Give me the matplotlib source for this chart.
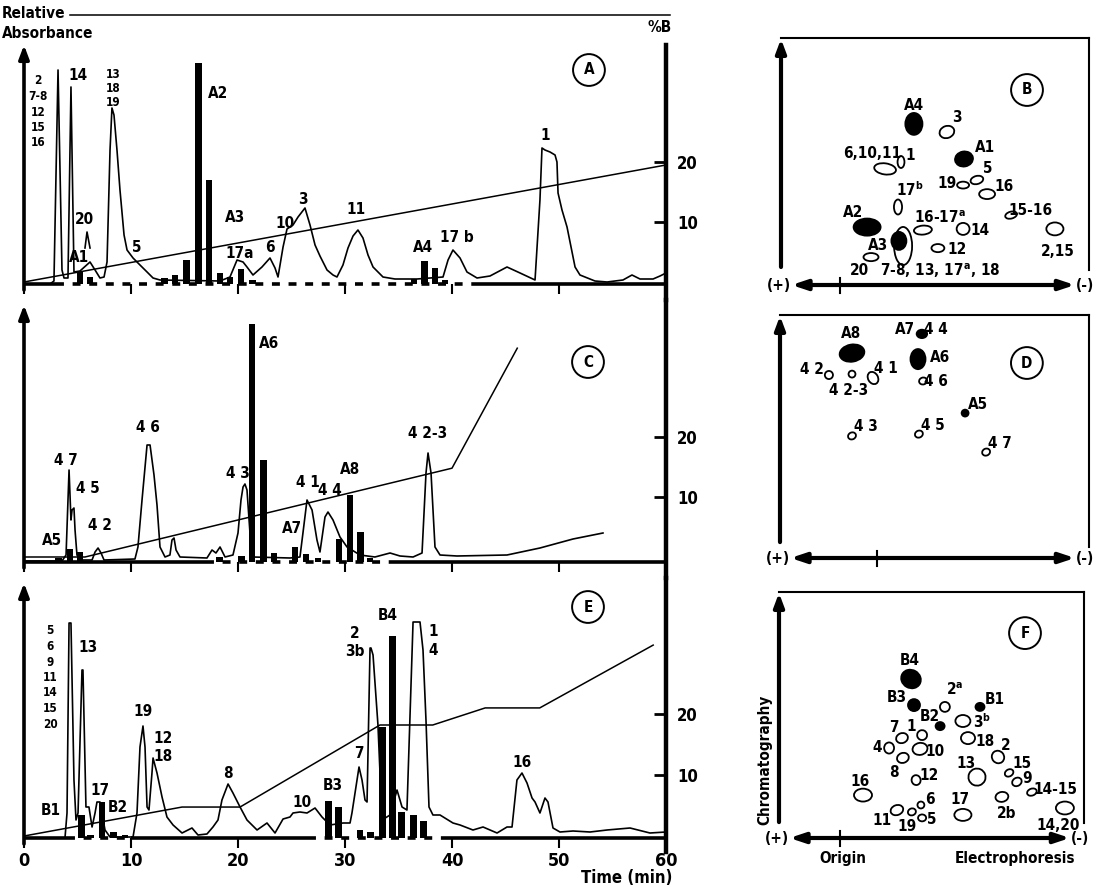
#!/usr/bin/env python3
# Chromatograms (A, C, E) with fraction bars and gradient, plus 2D spot maps (B, D, F)
import numpy as np
import matplotlib
matplotlib.use('Agg')
import matplotlib.pyplot as plt
from matplotlib.patches import Ellipse

plt.rcParams['font.family'] = ['DejaVu Sans']
plt.rcParams['font.stretch'] = 'condensed'
plt.rcParams['font.weight'] = 'bold'
plt.rcParams['mathtext.default'] = 'bf'

# ---------------- chromatogram A ----------------
a_time = [0, 2.43, 2.80, 3.18, 3.55, 3.74, 4.11, 4.39, 4.67, 5.23, 6.17, 6.64, 7.10, 7.48, 7.76, 8.04,
          8.22, 8.41, 8.69, 8.97, 9.35, 9.63, 10.19, 10.84, 11.50, 12.06, 12.71, 18.32, 19.25, 19.91,
          20.47, 20.84, 21.40, 22.24, 22.99, 23.46, 23.74, 24.21, 24.58, 25.14, 25.61, 26.26, 26.73,
          27.20, 27.66, 28.32, 28.88, 29.25, 29.81, 30.28, 30.75, 31.21, 31.68, 32.15, 32.62, 33.55,
          34.67, 36.73, 39.16, 39.63, 40.09, 40.75, 41.40, 42.34, 43.55, 45.14, 46.36, 47.76, 48.22,
          48.41, 48.69, 49.16, 49.63, 49.81, 49.91, 50.28, 50.75, 51.50, 51.96, 53.36, 54.49, 55.98,
          56.82, 57.57, 58.79, 59.44, 60.0]
a_abs = [0, 0, 1.2, 85.6, 5.6, 2.4, 2.4, 78.8, 4.8, 5.2, 8.8, 5.6, 2.4, 2.8, 8.8, 53.6,
         70.4, 67.6, 53.6, 37.6, 19.6, 13.6, 10.4, 7.6, 4.8, 2.4, 1.6, 1.2, 2.8, 9.6,
         8.8, 6.8, 3.6, 6.8, 10.4, 6.4, 2.8, 14.8, 22.0, 23.6, 26.8, 30.4, 23.6,
         15.6, 11.2, 5.6, 3.6, 2.8, 7.6, 14.4, 19.2, 21.6, 18.4, 11.6, 6.8, 2.8,
         2.0, 2.0, 2.8, 9.6, 13.6, 10.4, 4.8, 2.4, 3.2, 6.8, 4.4, 1.6, 33.6,
         54.4, 53.6, 52.8, 51.6, 48.8, 36.4, 29.6, 22.8, 6.8, 3.6, 1.2, 0.8, 1.6,
         3.6, 2.0, 2.0, 3.2, 4.4]
a_peak20_time = [5.70, 5.89, 6.17]
a_peak20_abs = [14.4, 20.8, 14.4]
a_frac_time = [5.23, 6.17, 13.13, 14.11, 15.19, 16.31, 17.29, 18.32, 19.25, 20.28, 21.36, 36.45, 37.43, 38.41, 39.35]
a_frac_abs = [4.8, 2.8, 2.4, 3.6, 9.6, 88.4, 41.6, 4.4, 2.8, 6.0, 1.6, 2.0, 9.2, 6.4, 1.6]
a_grad_time = [0, 60]
a_grad_b = [0, 19.5]

# ---------------- chromatogram C ----------------
c_time = [0, 3.55, 3.93, 4.21, 4.39, 4.49, 4.67, 4.77, 4.95, 5.23, 6.36, 6.64, 6.92, 7.20, 7.48,
          10.37, 10.65, 11.03, 11.50, 11.78, 12.15, 12.43, 12.71, 13.18, 13.64, 13.83, 14.02, 14.21,
          14.58, 17.10, 17.57, 17.94, 18.32, 18.79, 19.53, 20.0, 20.28, 20.47, 20.65, 20.84, 21.12,
          21.40, 24.86, 25.79, 26.07, 26.45, 26.92, 27.38, 27.66, 28.13, 28.41, 28.88, 29.53, 30.19,
          31.40, 32.80, 34.21, 35.14, 36.36, 37.20, 37.57, 37.76, 38.04, 38.41, 38.88, 40.47, 45.14,
          48.22, 51.31, 54.11]
c_abs = [0.4, 0.4, 2.8, 36.8, 16.8, 20.8, 21.6, 12.8, 2.8, 0.8, 0.8, 4.0, 5.6, 3.6, 0.8,
         1.2, 6.0, 24.8, 46.8, 46.8, 34.8, 22.8, 6.0, 2.0, 2.8, 8.8, 9.6, 4.8,
         2.0, 1.6, 4.8, 3.6, 6.0, 2.0, 2.8, 11.6, 24.8, 30.0, 31.2, 28.8, 11.6,
         2.0, 1.6, 2.0, 11.6, 24.8, 20.8, 8.8, 4.0, 18.0, 20.0, 16.8, 10.0, 6.0,
         2.8, 2.0, 3.6, 2.4, 2.0, 3.6, 35.6, 43.6, 35.6, 6.0, 2.8, 2.4, 2.8,
         5.6, 9.2, 11.6]
c_frac_time = [3.22, 4.30, 5.23, 18.27, 20.33, 21.31, 22.38, 23.36, 25.33, 26.36, 27.48, 29.44, 30.47, 31.45, 32.34]
c_frac_abs = [1.6, 5.2, 4.0, 2.0, 2.4, 95.2, 40.8, 3.6, 6.0, 3.2, 1.6, 9.2, 26.8, 12.0, 1.6]
c_grad_time = [0, 5.7, 40.0, 46.1]
c_grad_b = [0, 0, 14.8, 34.8]

# ---------------- chromatogram E ----------------
e_time = [0, 3.83, 4.02, 4.21, 4.39, 4.67, 4.86, 5.05, 5.42, 5.51, 5.79, 6.07, 6.36, 6.64, 6.82,
          7.10, 7.57, 8.04, 10.19, 10.56, 10.84, 11.12, 11.31, 11.50, 11.68, 11.96, 12.06, 12.43,
          12.90, 13.36, 13.93, 14.77, 15.70, 16.26, 17.10, 17.66, 18.13, 18.50, 19.07, 19.53, 20.19,
          20.84, 21.78, 22.71, 23.46, 24.21, 24.86, 25.14, 25.79, 26.45, 27.20, 27.85, 28.6, 29.81,
          30.47, 30.65, 31.31, 31.59, 31.87, 32.06, 32.34, 32.43, 32.62, 33.08, 33.46, 34.21, 34.86,
          35.33, 35.79, 36.36, 37.01, 37.29, 37.57, 37.85, 38.22, 38.88, 40.09, 40.75, 41.96, 42.90,
          44.21, 45.14, 45.61, 46.07, 46.54, 47.01, 47.48, 47.76, 48.22, 48.69, 48.97, 49.44, 50.09,
          51.31, 52.90, 54.49, 56.64, 58.50, 60]
e_abs = [0, 0, 10, 86, 86, 23.2, 7.2, 10, 67.2, 67.2, 12.4, 12.4, 4.4, 10, 14.4,
         14.4, 3.2, 0.4, 0.4, 10, 36.4, 44.8, 36.4, 12.4, 11.2, 26, 32, 26,
         16.4, 8.4, 5.2, 2, 4, 1.2, 1.6, 4.4, 7.2, 15.2, 21.6, 18, 12.4,
         7.2, 3.2, 6, 2, 7.6, 8.4, 10, 10.4, 10, 12, 8.4, 5.2, 6,
         6, 10, 28.4, 23.2, 15.2, 14.4, 76, 76, 73.2, 45.2, 7.2, 9.2, 19.2,
         12.4, 11.2, 86.4, 86.4, 75.2, 47, 12.4, 9.2, 9.2, 6, 5.2, 3.2, 4.4,
         2, 4.4, 4.4, 23.2, 26, 22, 16, 14.4, 10, 16, 14.4, 4, 2.4,
         2.8, 2.4, 3.2, 4, 2, 2.4]
e_frac_time = [5.37, 6.21, 7.29, 8.36, 9.44, 28.46, 29.39, 31.40, 32.34, 33.50, 34.44, 35.28, 36.40, 37.34]
e_frac_abs = [9.2, 1.2, 14.4, 2.4, 1.2, 14.8, 12.4, 3.2, 2.4, 44.4, 80.8, 10.4, 9.2, 6.8]
e_grad_time = [0, 14.77, 20.19, 33.27, 38.2, 43.1, 48.2, 58.8]
e_grad_b = [0, 4.75, 4.75, 18.2, 18.2, 21.0, 21.0, 31.3]

# ---------------- spot map B ----------------
b_x = [44.3, 55.3, 61.0, 40.0, 34.7, 65.3, 60.7, 68.7, 39.0, 76.7, 28.7, 47.3, 60.7, 91.3, 40.7, 39.3, 52.3, 30.0]
b_y = [53.7, 51.0, 42.0, 41.0, 38.7, 35.0, 33.3, 30.3, 26.0, 23.3, 19.3, 18.3, 18.7, 18.7, 13.0, 14.7, 12.3, 9.3]
b_w = [5.7, 5.0, 6.0, 2.3, 7.3, 4.3, 4.0, 5.3, 2.7, 4.0, 9.0, 6.0, 4.3, 5.7, 6.0, 5.0, 4.3, 5.0]
b_h = [7.3, 4.0, 5.0, 4.0, 3.7, 2.7, 2.3, 3.3, 5.0, 2.3, 5.7, 3.0, 4.0, 4.3, 12.7, 6.0, 2.7, 2.7]
b_fill = [1, 0, 1, 0, 0, 0, 0, 0, 0, 0, 1, 0, 0, 0, 0, 1, 0, 0]
b_ang = [0, 20, 10, 0, -8, 15, 0, 0, 0, 15, 0, 5, 0, 0, 0, 0, 0, 0]

# ---------------- spot map D ----------------
d_x = [24.0, 47.3, 46.0, 16.3, 24.0, 31.0, 47.7, 61.7, 24.0, 46.3, 68.7]
d_y = [68.3, 74.7, 66.3, 61.0, 61.3, 60.0, 59.0, 48.3, 40.7, 41.3, 35.3]
d_w = [8.3, 3.5, 5.0, 2.7, 2.3, 3.3, 2.7, 2.3, 2.7, 2.7, 2.7]
d_h = [5.7, 2.8, 6.7, 2.7, 2.3, 4.3, 2.3, 2.3, 2.3, 2.3, 2.3]
d_fill = [1, 1, 1, 0, 0, 0, 0, 1, 0, 0, 0]
d_ang = [10, 0, 0, 0, 0, 30, 15, 0, 25, 25, 25]

# ---------------- spot map F ----------------
f_x = [44.0, 45.0, 55.3, 67.0, 53.7, 61.3, 47.7, 41.0, 63.0, 36.7, 47.0, 41.3, 73.0, 76.7, 66.0, 79.3,
       45.7, 84.3, 28.0, 74.3, 95.3, 47.3, 39.3, 44.3, 47.7, 61.3]
f_y = [53.0, 44.3, 43.7, 43.7, 37.3, 39.0, 34.3, 33.3, 33.3, 30.0, 29.7, 26.7, 27.0, 21.7, 20.3, 18.7,
       19.3, 15.3, 14.3, 13.7, 10.0, 11.0, 9.3, 8.7, 6.7, 7.7]
f_w = [6.7, 4.0, 3.3, 3.0, 3.0, 5.0, 3.3, 4.0, 4.7, 3.3, 5.0, 4.0, 4.0, 3.0, 5.7, 3.3,
       3.0, 3.3, 6.0, 4.3, 6.0, 2.3, 4.3, 2.7, 2.7, 5.7]
f_h = [6.0, 4.0, 3.3, 2.7, 2.7, 4.0, 3.3, 3.3, 4.0, 3.7, 4.0, 3.3, 4.3, 2.3, 5.7, 2.7,
       3.3, 2.3, 4.3, 3.3, 4.3, 2.3, 3.3, 2.3, 2.3, 4.0]
f_fill = [1, 1, 0, 1, 1, 0, 0, 0, 0, 0, 0, 0, 0, 0, 0, 0, 0, 0, 0, 0, 0, 0, 0, 0, 0, 0]
f_ang = [-30, 0, 40, 0, 0, 0, 20, 20, 0, 0, 10, 20, 40, 30, 20, 30, 10, 20, 0, 10, 0, 40, 20, 20, 0, 0]

W, H = 1098, 888
fig = plt.figure(figsize=(W / 100, H / 100), dpi=100)


def box(x0, y0, x1, y1):
    # pixel box of the page -> figure fraction
    return [x0 / W, 1 - y1 / H, (x1 - x0) / W, (y1 - y0) / H]


def chrom(rect, abs_lim, b_lim, b_top, t, a, ft, fa, gt, gb, solid, dashed, labels, letter, bar_w=0.6, time_axis=False):
    ax = fig.add_axes(rect)
    ax.patch.set_visible(False)
    ax.set_xlim(0, 60)
    ax.set_ylim(*abs_lim)
    for s in ['left', 'right', 'top']:
        ax.spines[s].set_visible(False)
    ax.spines['bottom'].set_position(('data', 0))
    ax.spines['bottom'].set_visible(False)
    ax.set_yticks([])
    ax.set_xticks(np.arange(0, 61, 10))
    ax.tick_params(axis='x', direction='out', length=7, width=1.5, labelsize=13, pad=3)
    if not time_axis:
        ax.set_xticklabels([])

    for s0, s1 in solid:
        ax.plot([s0, s1], [0, 0], color='k', lw=2.6, solid_capstyle='butt')
    for s0, s1 in dashed:
        ax.plot([s0, s1], [0, 0], color='k', lw=2.6, ls=(0, (2.2, 2.4)))
    ax.bar(ft, fa, width=bar_w, color='k', zorder=3)
    ax.plot(t, a, color='k', lw=1.2, zorder=4)

    ax.annotate('', xy=(0, abs_lim[1] - 2), xytext=(0, -2.4),
                arrowprops=dict(arrowstyle='-|>,head_width=0.3,head_length=0.8', lw=2.6,
                                color='k', shrinkA=0, shrinkB=0), annotation_clip=False)
    for txt, x, y, fs, ls in labels:
        ax.text(x, y, txt, ha='center', va='center', fontsize=fs, linespacing=ls, zorder=5)
    ax.text(letter[1], letter[2], letter[0], ha='center', va='center', fontsize=11,
            bbox=dict(boxstyle='circle,pad=0.55', fc='none', ec='k', lw=1.4))

    tw = ax.twinx()
    tw.set_ylim(*b_lim)
    tw.plot(gt, gb, color='k', lw=1.1)
    for s in ['left', 'top', 'bottom']:
        tw.spines[s].set_visible(False)
    tw.spines['right'].set_linewidth(3.2)
    tw.spines['right'].set_bounds(b_lim[0], b_top)
    tw.set_yticks([10, 20])
    tw.tick_params(axis='y', direction='in', length=9, width=2, labelsize=12, pad=8)
    return ax, tw


# panel A
a_labels = [("2\n7-8\n12\n15\n16", 1.31, 68.8, 8.5, 1.25), ("14", 5.05, 83.6, 11, 1.2),
            ("13\n18\n19", 8.32, 78.4, 8.5, 1.1), ("20", 5.61, 25.6, 11, 1.2), ("A1", 5.14, 10.4, 11, 1.2),
            ("5", 10.56, 14.4, 11, 1.2), ("A2", 18.13, 76.4, 11, 1.2), ("A3", 19.72, 26.8, 11, 1.2),
            ("17a", 20.19, 12.4, 11, 1.2), ("6", 22.99, 14.8, 11, 1.2), ("10", 24.39, 24.0, 11, 1.2),
            ("3", 26.07, 33.6, 11, 1.2), ("11", 31.03, 29.6, 11, 1.2), ("A4", 37.29, 14.4, 11, 1.2),
            ("17 b", 40.47, 18.8, 11, 1.2), ("1", 48.69, 59.6, 11, 1.2)]
axA, twA = chrom(box(24, 40, 666, 300), (-6.4, 97.6), (-3.0, 40.33), 39.5,
                 a_time, a_abs, a_frac_time, a_frac_abs, a_grad_time, a_grad_b,
                 [(0, 3.0), (42.5, 60)], [(3.0, 42.5)], a_labels, ("A", 52.8, 85.6))
axA.plot(a_peak20_time, a_peak20_abs, color='k', lw=1.2)
axA.text(-2.06, 108.4, "Relative", ha='left', va='center', fontsize=11)
axA.text(-2.06, 100.4, "Absorbance", ha='left', va='center', fontsize=11)
axA.plot([4.3, 60.4], [107.6, 107.6], color='k', lw=1.1, clip_on=False)
axA.text(59.4, 102.4, "%B", ha='center', va='center', fontsize=11)

# panel C
c_labels = [("4 7", 3.93, 40.8, 11, 1.2), ("4 5", 5.98, 29.6, 11, 1.2), ("4 2", 7.10, 14.8, 11, 1.2),
            ("A5", 2.62, 8.8, 11, 1.2), ("4 6", 11.59, 54.0, 11, 1.2), ("4 3", 20.0, 35.6, 11, 1.2),
            ("A6", 22.9, 87.6, 11, 1.2), ("A7", 25.05, 13.6, 11, 1.2), ("4 1", 26.54, 32.0, 11, 1.2),
            ("4 4", 28.6, 28.8, 11, 1.2), ("A8", 30.47, 37.2, 11, 1.2), ("4 2-3", 37.76, 51.6, 11, 1.2)]
axC, twC = chrom(box(24, 300, 666, 578), (-6.4, 104.8), (-3.5, 42.83), 42.83,
                 c_time, c_abs, c_frac_time, c_frac_abs, c_grad_time, c_grad_b,
                 [(0, 17.0), (34.2, 60)], [(17.0, 34.2)], c_labels, ("C", 52.71, 80.0))

# panel E
e_labels = [("5\n6\n9\n11\n14\n15\n20", 2.43, 64.2, 8.5, 1.25), ("13", 5.98, 76.0, 11, 1.2),
            ("17", 7.10, 19.2, 11, 1.2), ("B1", 2.52, 11.2, 11, 1.2), ("B2", 8.79, 12.4, 11, 1.2),
            ("19", 11.12, 50.4, 11, 1.2), ("12\n18", 12.99, 36.2, 11, 1.2), ("8", 19.07, 26.0, 11, 1.2),
            ("10", 25.98, 14.4, 11, 1.2), ("B3", 28.88, 21.2, 11, 1.2), ("7", 31.31, 34.0, 11, 1.2),
            ("2\n3b", 30.93, 78.2, 11, 1.2), ("B4", 34.02, 89.2, 11, 1.2), ("1\n4", 38.22, 78.8, 11, 1.4),
            ("16", 46.54, 30.4, 11, 1.2)]
axE, twE = chrom(box(24, 578, 666, 852), (-5.6, 104.0), (-2.62, 42.3), 42.3,
                 e_time, e_abs, e_frac_time, e_frac_abs, e_grad_time, e_grad_b,
                 [(0, 4.0), (10.0, 26.5), (39.5, 60)], [(4.0, 10.0), (26.5, 39.5)],
                 e_labels, ("E", 52.71, 92.4), bar_w=0.65, time_axis=True)
axE.text(56.36, -15.8, "Time (min)", ha='center', va='center', fontsize=12)


def spot_map(rect, xmax, ymax, xs, ys, ws, hs, fills, angs, labels, letter_xy, letter, origin_x, right_low, arrow_low):
    ax = fig.add_axes(rect)
    ax.set_xlim(0, xmax)
    ax.set_ylim(0, ymax)
    ax.set_xticks([])
    ax.set_yticks([])
    ax.spines['left'].set_visible(False)
    ax.spines['bottom'].set_visible(False)
    ax.spines['top'].set_linewidth(1.5)
    ax.spines['right'].set_linewidth(1.5)
    ax.spines['right'].set_bounds(right_low, ymax)

    for x, y, w, h, f, ang in zip(xs, ys, ws, hs, fills, angs):
        ax.add_patch(Ellipse((x, y), w, h, angle=ang, facecolor='k' if f else 'white',
                             edgecolor='k', lw=1.3))
    for txt, x, y in labels:
        ax.text(x, y, txt, ha='center', va='center', fontsize=11)
    ax.text(letter_xy[0], letter_xy[1], letter, ha='center', va='center', fontsize=11,
            bbox=dict(boxstyle='circle,pad=0.55', fc='none', ec='k', lw=1.4))

    ax.annotate('', xy=(0, ymax - 0.3), xytext=(0, arrow_low),
                arrowprops=dict(arrowstyle='-|>,head_width=0.3,head_length=0.8', lw=3,
                                color='k', shrinkA=0, shrinkB=0), annotation_clip=False)
    ax.annotate('', xy=(xmax - 4.7, 0), xytext=(3.5, 0),
                arrowprops=dict(arrowstyle='<|-|>,head_width=0.3,head_length=0.9', lw=3,
                                color='k', shrinkA=0, shrinkB=0), annotation_clip=False)
    ax.plot([origin_x, origin_x], [-2.7, 2.3], color='k', lw=1.5, clip_on=False)
    ax.text(-0.7, 0, "(+)", ha='center', va='center', fontsize=11)
    ax.text(xmax - 1.2, 0, "(-)", ha='center', va='center', fontsize=11)
    return ax


b_labels = [("A4", 44.3, 59.7), ("3", 58.7, 55.7), ("A1", 68.0, 46.0), ("6,10,11", 30.3, 43.7),
            ("1", 43.0, 43.0), ("5", 69.0, 38.7), ("19", 55.3, 34.0), ("16", 74.3, 32.7),
            ("17$^b$", 43.0, 31.7), ("15-16", 83.0, 24.7), ("A2", 24.0, 24.3), ("16-17$^a$", 53.0, 22.3),
            ("14", 66.3, 18.3), ("2,15", 92.3, 11.3), ("A3", 32.3, 13.3), ("12", 58.7, 12.0),
            ("20", 26.0, 4.7), ("7-8, 13, 17$^a$, 18", 53.0, 4.7)]
spot_map(box(781, 38, 1089, 285), 308 / 3, 247 / 3, b_x, b_y, b_w, b_h, b_fill, b_ang,
         b_labels, (82.0, 65.0), "B", 19.7, 5.0, 6.0)

d_labels = [("A8", 23.7, 74.7), ("A7", 41.7, 76.3), ("4 4", 52.0, 76.3), ("A6", 53.3, 67.0),
            ("4 2", 10.7, 63.0), ("4 1", 35.3, 63.3), ("4 2-3", 23.0, 56.0), ("4 6", 52.0, 58.7),
            ("A5", 66.0, 51.3), ("4 3", 28.7, 43.7), ("4 5", 51.0, 44.3), ("4 7", 73.3, 38.3)]
spot_map(box(780, 315, 1089, 558), 309 / 3, 243 / 3, d_x, d_y, d_w, d_h, d_fill, d_ang,
         d_labels, (82.3, 65.0), "D", 32.3, 3.7, 5.3)

f_labels = [("B4", 43.7, 59.3), ("B3", 39.3, 46.7), ("2$^a$", 58.7, 49.3), ("B1", 72.0, 46.3),
            ("B2", 50.3, 40.6), ("3$^b$", 67.7, 38.7), ("1", 44.0, 37.3), ("7", 38.3, 36.7),
            ("18", 68.7, 32.3), ("4", 32.7, 30.3), ("10", 52.0, 28.7), ("8", 38.3, 22.0),
            ("2", 75.7, 31.0), ("15", 81.0, 25.0), ("13", 62.3, 25.0), ("9", 82.7, 19.7),
            ("12", 50.0, 20.7), ("14-15", 92.0, 16.3), ("16", 27.0, 18.7), ("2b", 76.0, 8.3),
            ("14,20", 93.0, 4.3), ("6", 50.3, 12.7), ("17", 60.3, 12.7), ("11", 34.3, 6.0),
            ("19", 42.7, 3.7), ("5", 51.0, 6.3)]
axF = spot_map(box(779, 592, 1084, 838), 305 / 3, 246 / 3, f_x, f_y, f_w, f_h, f_fill, f_ang,
               f_labels, (82.0, 68.3), "F", 20.3, 5.0, 5.3)
axF.text(-4.7, 26, "Chromatography", rotation=90, ha='center', va='center', fontsize=11)
axF.text(21.3, -6.7, "Origin", ha='center', va='center', fontsize=11)
axF.text(78.7, -6.7, "Electrophoresis", ha='center', va='center', fontsize=11)

fig.savefig('out.png', dpi=100)
